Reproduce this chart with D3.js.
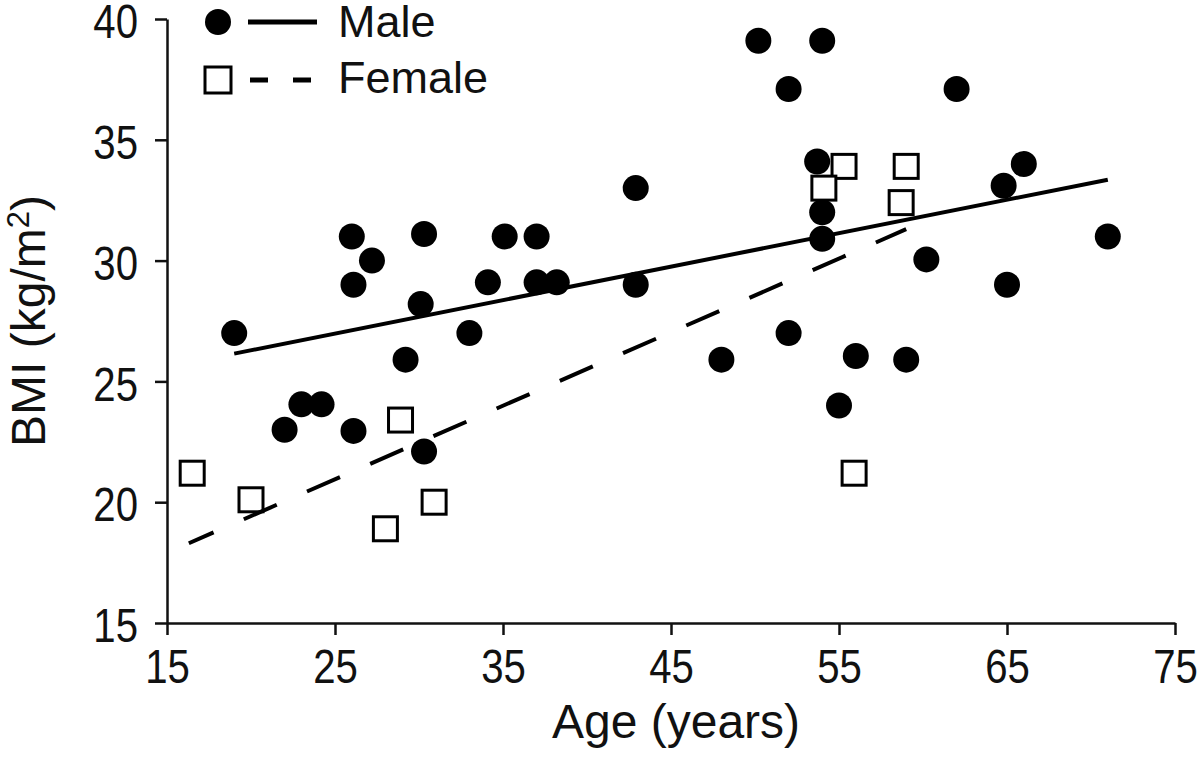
<!DOCTYPE html>
<html>
<head>
<meta charset="utf-8">
<script src="https://cdn.jsdelivr.net/npm/d3@7"></script>
<style>
  html, body { margin: 0; padding: 0; background: #fff; }
  svg { display: block; }
</style>
</head>
<body>
<svg id="chart" width="1200" height="776"></svg>
<script>
// ---- data ----
const maleAge = [19, 22, 23, 24.2, 26.1, 26.1, 26, 27.2, 29.2, 30.1, 30.3, 30.3, 33, 34.1, 35.1, 37, 37, 38.2, 42.9, 42.9, 48, 50.2, 52, 52, 53.7, 54, 54, 54, 55, 56, 59, 60.2, 62, 64.8, 65, 66, 71];
const maleBMI = [27, 23, 24.05, 24.05, 22.95, 29, 31, 30, 25.9, 28.2, 31.1, 22.1, 27, 29.1, 31, 31, 29.1, 29.1, 33, 29, 25.9, 39.1, 37.1, 27, 34.1, 39.1, 32, 30.9, 24, 26.05, 25.9, 30.05, 37.1, 33.1, 29, 34, 31];
const femaleAge = [16.5, 20, 28.9, 28, 30.9, 55.3, 54.1, 59, 58.7, 55.9];
const femaleBMI = [21.2, 20.1, 23.4, 18.9, 20, 33.9, 33, 33.9, 32.4, 21.2];
const maleFitAge = [19, 71];
const maleFitBMI = [26.15, 33.35];
const femaleFitAge = [16.3, 59];
const femaleFitBMI = [18.3, 31.3];
const xTicks = [15, 25, 35, 45, 55, 65, 75];
const yTicks = [15, 20, 25, 30, 35, 40];
const seriesNames = ["Male", "Female"];
const xTitle = "Age (years)";

// ---- layout ----
const svg = d3.select("#chart");
const mLeft = 167, mRight = 1175, mTop = 19, mBottom = 623;
const x = d3.scaleLinear().domain([15, 75]).range([mLeft, mRight]);
const y = d3.scaleLinear().domain([15, 40]).range([mBottom, mTop]);

const sansFont = "'Liberation Sans', Arial, sans-serif";
const narrowFont = "'Liberation Sans Narrow', 'Arial Narrow', 'Liberation Sans', Arial, sans-serif";

// detect whether a narrow face is really available
function measure(font) {
  const t = svg.append("text").attr("font-family", font).attr("font-size", 50).text("40404040");
  const w = t.node().getComputedTextLength();
  t.remove();
  return w;
}
const narrowOK = measure(narrowFont) < measure(sansFont) * 0.9;

// ---- axes ----
const ink = "#111";
const xAxis = svg.append("g")
  .attr("transform", `translate(0,${mBottom})`)
  .call(d3.axisBottom(x).tickValues(xTicks).tickSize(12).tickSizeOuter(0).tickPadding(13).tickFormat(d3.format("d")));
const yAxis = svg.append("g")
  .attr("transform", `translate(${mLeft},0)`)
  .call(d3.axisLeft(y).tickValues(yTicks).tickSize(12).tickSizeOuter(0).tickPadding(17).tickFormat(d3.format("d")));

[xAxis, yAxis].forEach(g => {
  g.select(".domain").attr("stroke", ink).attr("stroke-width", 2.5);
  g.selectAll(".tick line").attr("stroke", ink).attr("stroke-width", 2.5);
  g.selectAll(".tick text")
    .attr("fill", ink)
    .attr("font-family", narrowFont)
    .attr("font-size", 49);
});
yAxis.selectAll(".tick text").attr("dy", "0.38em");
if (!narrowOK) {
  xAxis.selectAll(".tick text").attr("transform", "scale(0.82,1)");
  yAxis.selectAll(".tick text").each(function () {
    const t = d3.select(this);
    const xx = +t.attr("x");
    t.attr("x", xx / 0.82).attr("transform", "scale(0.82,1)");
  });
}

// axis titles
svg.append("text")
  .attr("x", (mLeft + mRight) / 2 + 5)
  .attr("y", 738)
  .attr("text-anchor", "middle")
  .attr("font-family", sansFont)
  .attr("font-size", 48)
  .attr("fill", ink)
  .text(xTitle);

const yt = svg.append("text")
  .attr("transform", `translate(45,${(mTop + mBottom) / 2}) rotate(-90)`)
  .attr("text-anchor", "middle")
  .attr("font-family", sansFont)
  .attr("font-size", 48)
  .attr("fill", ink);
yt.append("tspan").text("BMI (kg/m");
yt.append("tspan").attr("font-size", 31).attr("dy", "-16").text("2");
yt.append("tspan").attr("dy", "16").text(")");

// ---- markers ----
const plot = svg.append("g");
plot.selectAll("circle.male")
  .data(d3.range(maleAge.length))
  .join("circle")
  .attr("class", "male")
  .attr("cx", i => x(maleAge[i]))
  .attr("cy", i => y(maleBMI[i]))
  .attr("r", 13)
  .attr("fill", "#000");

const sq = 24;
plot.selectAll("rect.female")
  .data(d3.range(femaleAge.length))
  .join("rect")
  .attr("class", "female")
  .attr("x", i => x(femaleAge[i]) - sq / 2)
  .attr("y", i => y(femaleBMI[i]) - sq / 2)
  .attr("width", sq)
  .attr("height", sq)
  .attr("fill", "#fff")
  .attr("stroke", "#000")
  .attr("stroke-width", 3);

// ---- regression lines ----
const line = d3.line().x(d => x(d[0])).y(d => y(d[1]));
plot.append("path")
  .datum(maleFitAge.map((a, i) => [a, maleFitBMI[i]]))
  .attr("d", line)
  .attr("fill", "none")
  .attr("stroke", "#000")
  .attr("stroke-width", 4);
plot.append("path")
  .datum(femaleFitAge.map((a, i) => [a, femaleFitBMI[i]]))
  .attr("d", line)
  .attr("fill", "none")
  .attr("stroke", "#000")
  .attr("stroke-width", 4)
  .attr("stroke-dasharray", "36,33")
  .attr("stroke-dashoffset", 9);

// ---- legend ----
const lg = svg.append("g");
lg.append("circle").attr("cx", 218).attr("cy", 22).attr("r", 13).attr("fill", "#000");
lg.append("line").attr("x1", 248).attr("x2", 317).attr("y1", 22).attr("y2", 22)
  .attr("stroke", "#000").attr("stroke-width", 5);
lg.append("rect").attr("x", 205).attr("y", 67).attr("width", 26).attr("height", 26)
  .attr("fill", "#fff").attr("stroke", "#000").attr("stroke-width", 3);
lg.append("line").attr("x1", 250).attr("x2", 311).attr("y1", 80).attr("y2", 80)
  .attr("stroke", "#000").attr("stroke-width", 5).attr("stroke-dasharray", "18,25");
lg.append("text").attr("x", 338).attr("y", 37)
  .attr("font-family", sansFont).attr("font-size", 45).attr("fill", ink).text(seriesNames[0]);
lg.append("text").attr("x", 338).attr("y", 93)
  .attr("font-family", sansFont).attr("font-size", 45).attr("fill", ink).text(seriesNames[1]);
</script>
</body>
</html>
